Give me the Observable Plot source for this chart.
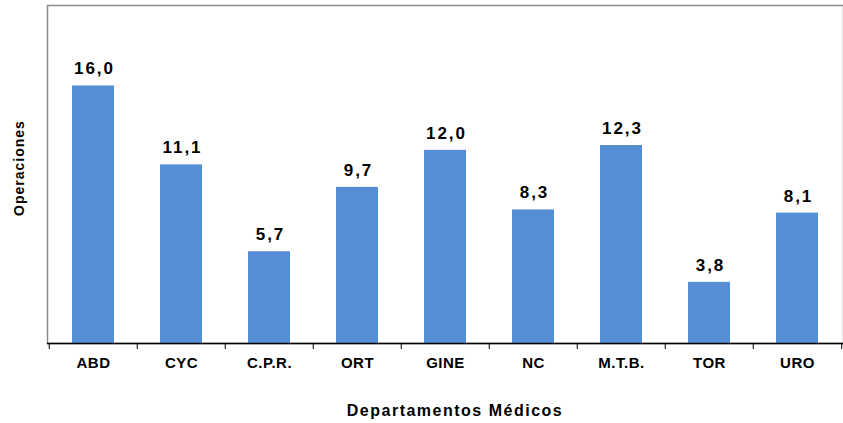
<!DOCTYPE html>
<html>
<head>
<meta charset="utf-8">
<script src="https://cdn.jsdelivr.net/npm/d3@7"></script>
<script src="https://cdn.jsdelivr.net/npm/@observablehq/plot@0.6"></script>
<style>
  html, body { margin: 0; padding: 0; background: #fff; }
  svg { font-family: "Liberation Sans", Arial, sans-serif; }
  g[aria-label="text"] text { letter-spacing: 2px; }
  g[aria-label="x-axis tick label"] text { letter-spacing: 0.5px; }
</style>
</head>
<body>
<div id="chart"></div>
<script>
const categories = ["ABD", "CYC", "C.P.R.", "ORT", "GINE", "NC", "M.T.B.", "TOR", "URO"];
const values = [16.0, 11.1, 5.7, 9.7, 12.0, 8.3, 12.3, 3.8, 8.1];
const yMax = 21;
const xTitle = "Departamentos Médicos";
const yTitle = "Operaciones";

const data = categories.map((c, i) => ({cat: c, v: values[i]}));
const fmt = d => d.toFixed(1).replace(".", ",");

const W = 843, H = 423, ML = 47, MR = 0, MT = 5, MB = 80;
const half = (W - ML - MR) / categories.length / 2;

const chart = Plot.plot({
  width: W,
  height: H,
  marginLeft: ML,
  marginRight: MR,
  marginTop: MT,
  marginBottom: MB,
  style: {fontFamily: '"Liberation Sans", Arial, sans-serif', background: "#fff", overflow: "visible"},
  x: {domain: categories, paddingInner: 0.525, paddingOuter: 0.2625, label: null},
  y: {domain: [0, yMax], label: null},
  marks: [
    Plot.frame({stroke: "#8c8c8c", strokeWidth: 1.5}),
    Plot.barY(data, {x: "cat", y: "v", fill: "#558ED5"}),
    Plot.text(data, {x: "cat", y: "v", text: d => fmt(d.v), dy: -17, dx: 1, fontSize: 17, fontWeight: "bold", fill: "#000"}),
    Plot.ruleY([0], {stroke: "#000", strokeWidth: 1.5}),
    Plot.axisX({tickSize: 6, dx: -half, text: null, stroke: "#000"}),
    Plot.axisX([categories[categories.length - 1]], {tickSize: 6, dx: half, text: null, stroke: "#000"}),
    Plot.axisX({tickSize: 0, tickPadding: 14, fontSize: 15, fontWeight: "bold", fill: "#000", label: null}),
    Plot.axisY({ticks: [], label: null})
  ]
});

// axis titles as real text
const svg = d3.select(chart);
svg.append("text")
  .attr("x", 455)
  .attr("y", 416)
  .attr("text-anchor", "middle")
  .attr("font-size", 16)
  .attr("font-weight", "bold")
  .attr("letter-spacing", "1.5px")
  .attr("fill", "#000")
  .text(xTitle);
svg.append("text")
  .attr("transform", `translate(24,${168}) rotate(-90)`)
  .attr("text-anchor", "middle")
  .attr("font-size", 14)
  .attr("font-weight", "bold")
  .attr("letter-spacing", "1px")
  .attr("fill", "#000")
  .text(yTitle);

document.getElementById("chart").appendChild(chart);
</script>
</body>
</html>
